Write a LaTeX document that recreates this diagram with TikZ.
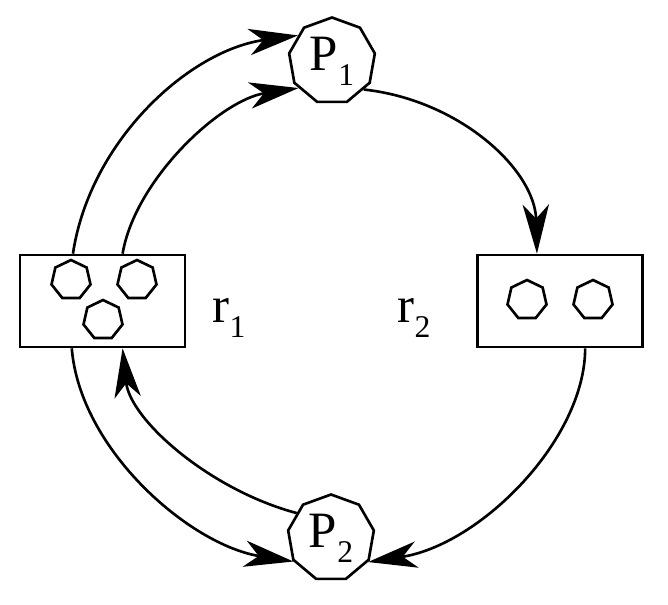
\documentclass[tikz,border=0pt]{standalone}
\usepackage{fontspec}
\setmainfont{Liberation Serif}
\usepackage{tikz}
\usetikzlibrary{shapes.geometric, arrows.meta}
\newcommand{\lowidx}[1]{\raisebox{-0.3em}{\fontsize{18}{20}\selectfont #1}}

\begin{document}
\begin{tikzpicture}[x=0.02cm, y=-0.02cm, line width=1.5pt,
    proc/.style={draw, regular polygon, regular polygon sides=9, minimum size=1.74cm,
      inner sep=0pt, font=\fontsize{29}{32}\selectfont},
    res/.style={draw, rectangle, minimum width=3.3cm, minimum height=1.84cm},
    tok/.style={draw, regular polygon, regular polygon sides=7, minimum size=0.8cm, inner sep=0pt},
    lbl/.style={font=\fontsize{29}{32}\selectfont},
    flow/.style={-{Stealth[length=28pt, width=15pt, inset=8pt]}}]
    \useasboundingbox (0,0) rectangle (668,604);

    %% resources
    \node[res] (r1) at (102.5,301) {};
    \node[res] (r2) at (560,301) {};
    \node[lbl] (r1lbl) at (229,318) {r\lowidx{1}};
    \node[lbl] (r2lbl) at (414,318) {r\lowidx{2}};

    %% tokens
    \node[tok] (t1) at (71,280) {};
    \node[tok] (t2) at (137,280) {};
    \node[tok] (t3) at (103,320) {};
    \node[tok] (t4) at (527,300) {};
    \node[tok] (t5) at (593,300) {};

    %% processes
    \node[proc] (P1) at (332,61) {P\lowidx{1}};
    \node[proc] (P2) at (331,538) {P\lowidx{2}};

    %% arcs
    \draw[flow] (r1.122.7) .. controls (90,140) and (190,50) .. (P1.143);
    \draw[flow] (r1.67) .. controls (135,180) and (220,100) .. (P1.219);
    \draw[flow] (P1.318) .. controls (460,100) and (535,170) .. (r2.116.6);
    \draw[flow] (r2.298.5) .. controls (585,440) and (480,545) .. (P2.327);
    \draw[flow] (r1.237.3) .. controls (80,450) and (190,545) .. (P2.212);
    \draw[flow] (P2.144) .. controls (210,490) and (130,420) .. (r1.293);
  \end{tikzpicture}
\end{document}
